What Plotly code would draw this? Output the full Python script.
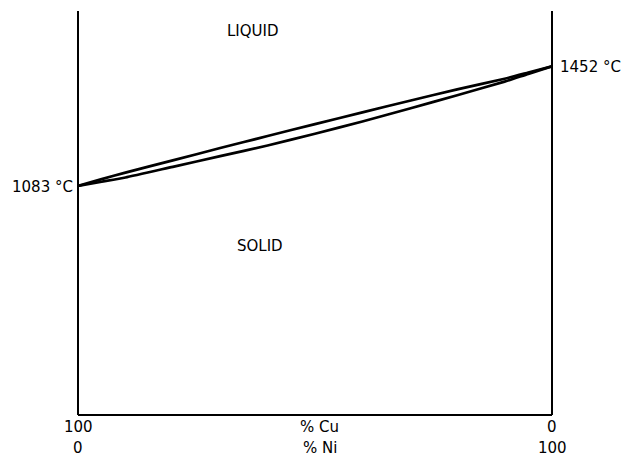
import plotly.graph_objects as go

# Composition (% Ni) and temperatures (deg C)
ni_pct = [0, 5, 10, 20, 30, 40, 50, 60, 70, 80, 90, 95, 100]
liquidus = [1083, 1104, 1124, 1162, 1200, 1237, 1274, 1310, 1346, 1381, 1414, 1433, 1452]
solidus = [1083, 1096, 1109, 1142, 1175, 1208, 1244, 1282, 1322, 1363, 1405, 1429, 1452]

cu_tick_vals = [0, 100]
cu_tick_text = ["100", "0"]
ni_tick_vals = [0, 100]
ni_tick_text = ["0", "100"]

region_labels = ["LIQUID", "SOLID"]
region_pos = [(37, 1562), (38.5, 898)]
point_labels = ["1083 °C", "1452 °C"]
point_temps = [1083, 1452]

FONT = "DejaVu Sans"
FS = 15

fig = go.Figure()
for ys in (liquidus, solidus):
    fig.add_trace(go.Scatter(
        x=ni_pct, y=ys, mode="lines",
        line=dict(color="black", width=2.7, shape="spline", smoothing=0.5),
        cliponaxis=False, showlegend=False, hoverinfo="skip"))

# axes frame: left, right, bottom
for shp in [dict(x0=0, x1=0, y0=0, y1=1), dict(x0=1, x1=1, y0=0, y1=1),
            dict(x0=0, x1=1, y0=0, y1=0)]:
    fig.add_shape(type="line", xref="paper", yref="paper",
                  line=dict(color="black", width=2), **shp)

fig_h = 457
top_m, bot_m = 11, 42
plot_h = fig_h - top_m - bot_m


def py(ypx):
    return (fig_h - bot_m - ypx) / plot_h


ann = []
for v, t in zip(cu_tick_vals, cu_tick_text):
    ann.append(dict(x=v, y=427, text=t))
for v, t in zip(ni_tick_vals, ni_tick_text):
    ann.append(dict(x=v, y=448, text=t))
ann.append(dict(x=51, y=427, text="% Cu"))
ann.append(dict(x=51, y=448, text="% Ni"))

annotations = []
for a in ann:
    a = dict(a)
    a["y"] = py(a["y"])
    a.update(xref="x", yref="paper", showarrow=False,
             font=dict(family=FONT, size=FS, color="black"),
             xanchor="center", yanchor="middle")
    annotations.append(a)

for (x, y), t in zip(region_pos, region_labels):
    annotations.append(dict(x=x, y=y, xref="x", yref="y", text=t, showarrow=False,
                            font=dict(family=FONT, size=FS, color="black"),
                            xanchor="center", yanchor="middle"))

annotations.append(dict(x=0, y=point_temps[0], xref="x", yref="y", text=point_labels[0],
                        showarrow=False, xanchor="right", yanchor="middle", xshift=-3, yshift=-1,
                        font=dict(family=FONT, size=FS, color="black")))
annotations.append(dict(x=100, y=point_temps[1], xref="x", yref="y", text=point_labels[1],
                        showarrow=False, xanchor="left", yanchor="middle", xshift=6, yshift=-1,
                        font=dict(family=FONT, size=FS, color="black")))

fig.update_layout(
    width=622, height=457,
    margin=dict(l=78, r=70, t=top_m, b=bot_m),
    paper_bgcolor="white", plot_bgcolor="white",
    xaxis=dict(range=[0, 100], visible=False, fixedrange=True),
    yaxis=dict(range=[376, 1623], visible=False, fixedrange=True),
    annotations=annotations,
    showlegend=False,
)

fig.write_html("out.html", config={"displayModeBar": False},
               post_script="document.body.style.margin='0px';")
